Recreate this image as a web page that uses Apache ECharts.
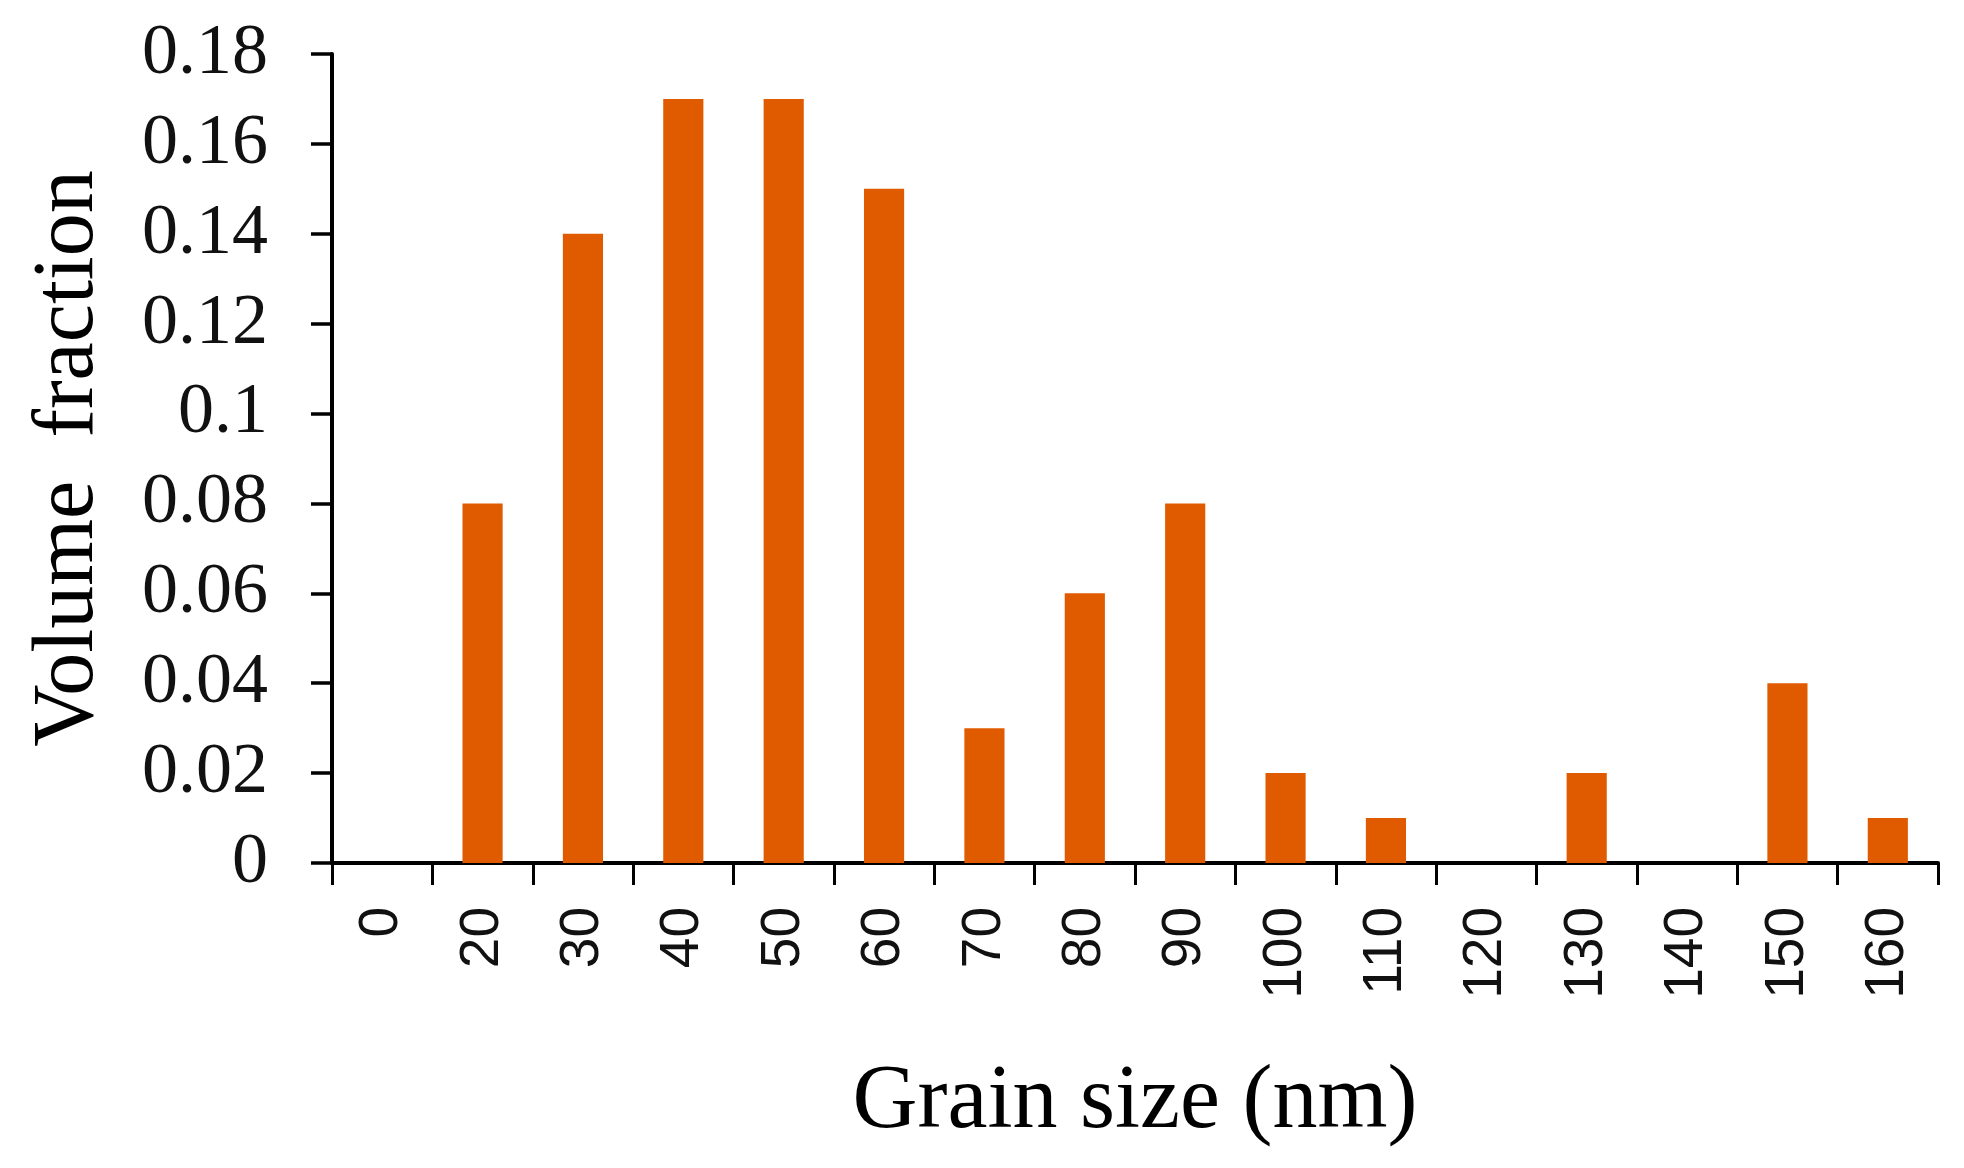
<!DOCTYPE html>
<html>
<head>
<meta charset="utf-8">
<script src="https://cdn.jsdelivr.net/npm/echarts@6/dist/echarts.min.js"></script>
<style>
html,body{margin:0;padding:0;background:#fff;}
#chart{width:1964px;height:1168px;}
</style>
</head>
<body>
<div id="chart"></div>
<script>
const categories = ['0','20','30','40','50','60','70','80','90','100','110','120','130','140','150','160'];
const volumeFraction = [0, 0.08, 0.14, 0.17, 0.17, 0.15, 0.03, 0.06, 0.08, 0.02, 0.01, 0, 0.02, 0, 0.04, 0.01];
const yTicks = {min: 0, max: 0.18, interval: 0.02};

const chart = echarts.init(document.getElementById('chart'));
chart.setOption({
  animation: false,
  backgroundColor: '#ffffff',
  grid: {left: 332, right: 26, top: 54, bottom: 305},
  xAxis: {
    type: 'category',
    data: categories,
    name: 'Grain size (nm)',
    nameLocation: 'middle',
    nameGap: 195,
    nameTextStyle: {fontFamily: 'Liberation Serif', fontSize: 90, color: '#000'},
    axisLine: {lineStyle: {color: '#000', width: 4}},
    axisTick: {show: true, length: 22, lineStyle: {color: '#000', width: 3}},
    axisLabel: {rotate: 90, margin: 44, fontFamily: 'Liberation Sans', fontSize: 55, color: '#111'}
  },
  yAxis: {
    type: 'value',
    min: yTicks.min,
    max: yTicks.max,
    interval: yTicks.interval,
    name: 'Volume  fraction',
    nameLocation: 'middle',
    nameGap: 220,
    nameTextStyle: {fontFamily: 'Liberation Serif', fontSize: 86, color: '#000'},
    axisLine: {show: true, lineStyle: {color: '#000', width: 4}},
    axisTick: {show: true, length: 21, lineStyle: {color: '#000', width: 3.5}},
    splitLine: {show: false},
    axisLabel: {
      margin: 64,
      fontFamily: 'Liberation Serif',
      fontSize: 72,
      color: '#111',
      formatter: function (v) { return String(parseFloat(v.toFixed(2))); }
    }
  },
  series: [{
    type: 'bar',
    data: volumeFraction,
    barWidth: '40%',
    itemStyle: {color: '#E05A00'}
  }]
});
</script>
</body>
</html>
